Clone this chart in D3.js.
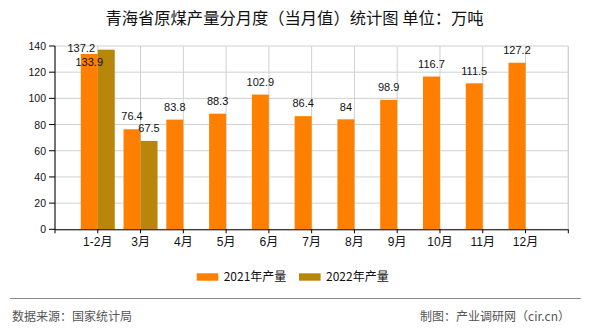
<!DOCTYPE html>
<html><head><meta charset="utf-8">
<script src="https://cdn.jsdelivr.net/npm/d3@7"></script>
<style>
html,body{margin:0;padding:0;background:#fff;}
svg{display:block;}
text{font-family:"Liberation Sans","Noto Sans CJK SC",sans-serif;}
</style></head>
<body><svg id="c" width="590" height="330"></svg>
<script>
const categories = ["1-2月","3月","4月","5月","6月","7月","8月","9月","10月","11月","12月"];
const values2021 = [133.9, 76.4, 83.8, 88.3, 102.9, 86.4, 84, 98.9, 116.7, 111.5, 127.2];
const values2022 = [137.2, 67.5, null, null, null, null, null, null, null, null, null];
const seriesNames = ["2021年产量", "2022年产量"];
const yTicks = [0, 20, 40, 60, 80, 100, 120, 140];

const colors = ["#FF8000", "#B8860B"];
const svg = d3.select("#c");
const L = 55, R = 568.3, T = 46, B = 229.3;

const pts = ["_s"].concat(categories).concat(["_e"]);
const x = d3.scalePoint().domain(pts).range([L, R]);
const y = d3.scaleLinear().domain([0, 140]).range([B, T]);
const bw = 17;

// title
svg.append("text").attr("x", 294.5).attr("y", 24).attr("text-anchor", "middle")
  .style("font-family", "'Noto Sans CJK SC',sans-serif").style("font-size", "16.3px").attr("fill", "#111")
  .text("青海省原煤产量分月度（当月值）统计图 单位：万吨");

// grid
const g = svg.append("g");
g.selectAll(".hg").data(yTicks).join("line")
  .attr("x1", L).attr("x2", R).attr("y1", d => y(d)).attr("y2", d => y(d))
  .attr("stroke", "#d0d0d0").attr("stroke-width", 1);
g.selectAll(".vg").data(pts).join("line")
  .attr("x1", d => x(d)).attr("x2", d => x(d)).attr("y1", T).attr("y2", B)
  .attr("stroke", "#d0d0d0").attr("stroke-width", 1);

// bars
const rows = categories.map((c, i) => ({c, v: [values2021[i], values2022[i]]}));
const has2 = rows.map(r => r.v[1] != null);
rows.forEach((r, i) => {
  r.v.forEach((v, s) => {
    if (v == null) return;
    const x0 = s === 0 ? x(r.c) - bw : x(r.c);
    svg.append("rect").attr("x", x0).attr("width", bw)
      .attr("y", y(v)).attr("height", y(0) - y(v)).attr("fill", colors[s]);
  });
});

// labels (offsets avoid collision in first group as in reference)
const labelShift = {"1-2月": [[0, 20.4], [-25, 11.3]]};
rows.forEach(r => {
  r.v.forEach((v, s) => {
    if (v == null) return;
    const cx = s === 0 ? x(r.c) - bw / 2 : x(r.c) + bw / 2;
    const sh = labelShift[r.c] ? labelShift[r.c][s] : [0, 0];
    svg.append("text").attr("x", cx + sh[0]).attr("y", y(v) - 8.8 + sh[1])
      .attr("text-anchor", "middle").style("font-size", "11px").attr("fill", "#111")
      .text(String(v));
  });
});

// axes
svg.append("line").attr("x1", L).attr("x2", L).attr("y1", T).attr("y2", B).attr("stroke", "#000");
svg.append("line").attr("x1", L).attr("x2", R).attr("y1", B + 0.5).attr("y2", B + 0.5).attr("stroke", "#000");
svg.append("line").attr("x1", R).attr("x2", R).attr("y1", T).attr("y2", B).attr("stroke", "#d0d0d0");
svg.selectAll(".yt").data(yTicks).join("line")
  .attr("x1", L - 6).attr("x2", L).attr("y1", d => y(d)).attr("y2", d => y(d)).attr("stroke", "#000");
svg.selectAll(".yl").data(yTicks).join("text")
  .attr("x", L - 9).attr("y", d => y(d) + 4).attr("text-anchor", "end")
  .style("font-size", "10.5px").attr("fill", "#111").text(d => d);
svg.selectAll(".xt").data(pts).join("line")
  .attr("x1", d => x(d)).attr("x2", d => x(d)).attr("y1", B).attr("y2", B + 4).attr("stroke", "#000");
svg.selectAll(".xl").data(categories).join("text")
  .attr("x", d => x(d)).attr("y", 246).attr("text-anchor", "middle")
  .style("font-size", "12px").attr("fill", "#111").text(d => d);

// legend
const legX = [196.7, 299];
seriesNames.forEach((n, i) => {
  svg.append("rect").attr("x", legX[i]).attr("y", 273.3).attr("width", 21.6).attr("height", 7.4).attr("fill", colors[i]);
  svg.append("text").attr("x", legX[i] + 27).attr("y", 281).style("font-size", "12px")
    .style("font-family", "'Noto Sans CJK SC',sans-serif").attr("fill", "#111").text(n);
});

// footer
svg.append("line").attr("x1", 10).attr("x2", 580.7).attr("y1", 298.5).attr("y2", 298.5).attr("stroke", "#888").attr("stroke-width", 1);
svg.append("text").attr("x", 12).attr("y", 321).style("font-size", "12px")
  .style("font-family", "'Noto Sans CJK SC',sans-serif").attr("fill", "#555").text("数据来源：国家统计局");
svg.append("text").attr("x", 570).attr("y", 321).attr("text-anchor", "end").style("font-size", "12px")
  .style("font-family", "'Noto Sans CJK SC',sans-serif").attr("fill", "#555").text("制图：产业调研网（cir.cn）");
</script></body></html>
